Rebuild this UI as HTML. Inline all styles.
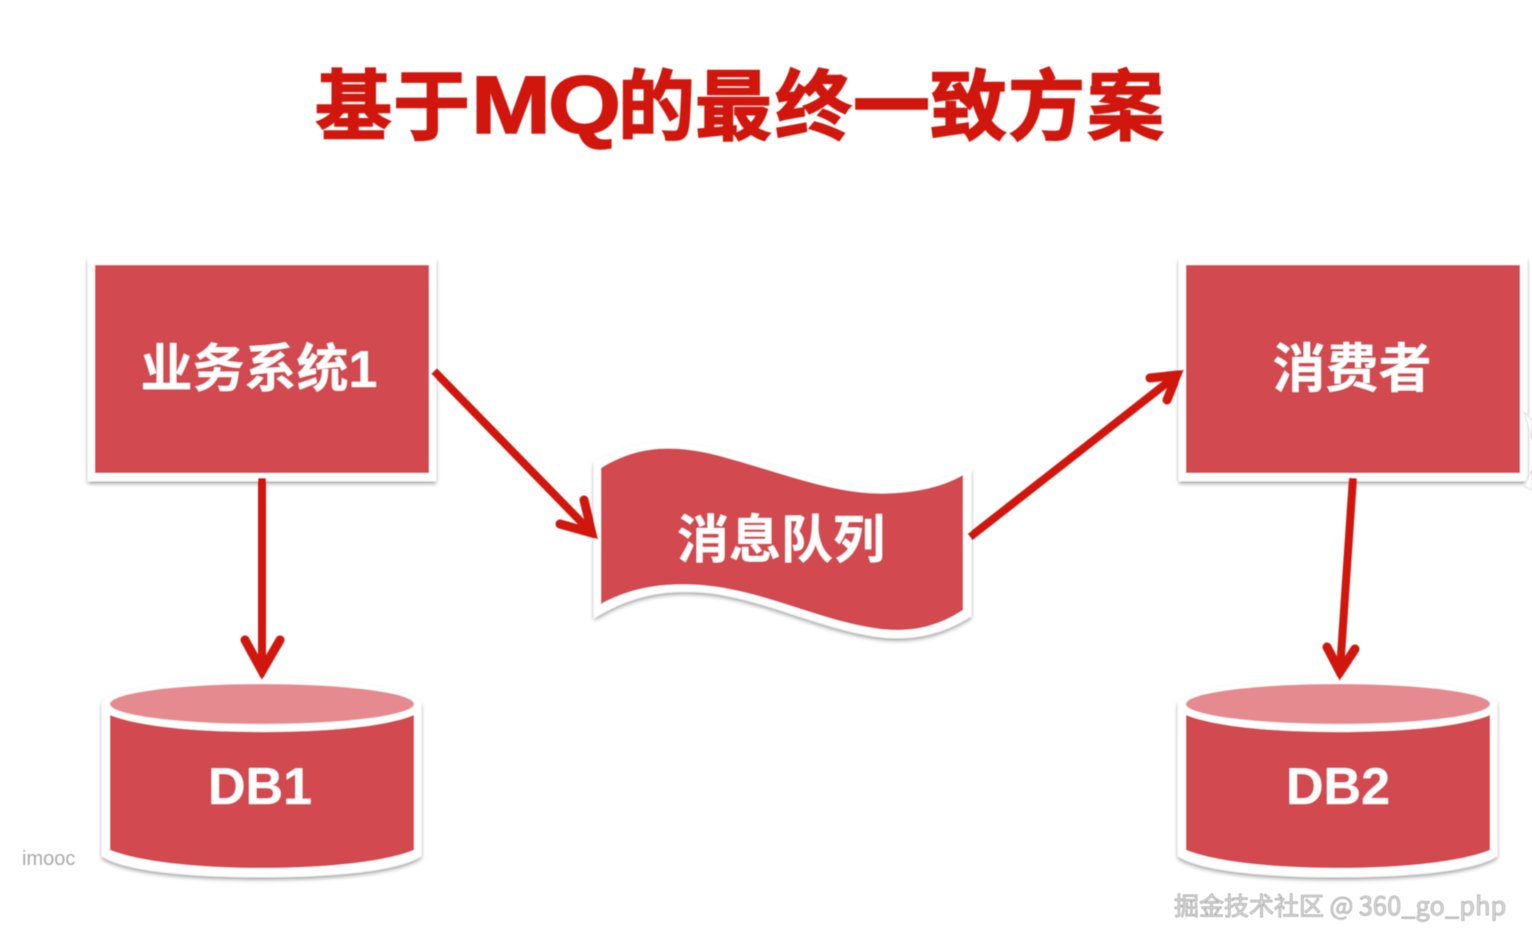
<!DOCTYPE html>
<html><head><meta charset="utf-8"><style>
html,body{margin:0;padding:0;background:#fff}
svg{display:block}
text{font-family:"Liberation Sans","Noto Sans CJK SC",sans-serif;font-weight:700}
</style></head><body>
<svg width="1532" height="948" viewBox="0 0 1532 948" xmlns="http://www.w3.org/2000/svg">
<defs>
<filter id="s" x="-5%" y="-5%" width="110%" height="112%"><feDropShadow dx="0" dy="2.5" stdDeviation="2" flood-color="#000" flood-opacity=".38"/></filter>
<filter id="b" x="-5%" y="-5%" width="110%" height="110%"><feGaussianBlur stdDeviation=".6"/></filter>
</defs>
<rect width="1532" height="948" fill="#fff"/>
<g filter="url(#b)">
<g fill="#d01608" stroke="#d01608" stroke-width="1.5">
<text x="315 393" y="134" font-size="77">基于</text>
<text x="471" y="133" font-size="82" textLength="80" lengthAdjust="spacingAndGlyphs" style="font-family:'Liberation Sans',sans-serif">M</text>
<text x="548" y="133" font-size="82" textLength="73" lengthAdjust="spacingAndGlyphs" style="font-family:'Liberation Sans',sans-serif">Q</text>
<text x="618 695 775 853 930 1008 1087" y="134" font-size="77">的最终一致方案</text>
</g>

<rect x="88" y="258" width="348" height="223" fill="#fff" filter="url(#s)"/>
<rect x="95" y="265" width="334" height="208" fill="#d24a50"/>
<text x="259" y="387" text-anchor="middle" font-size="52" fill="#fff">业务系统1</text>

<rect x="1179" y="258" width="348" height="223" fill="#fff" filter="url(#s)"/>
<rect x="1186" y="265" width="334" height="208" fill="#d24a50"/>
<text x="1352" y="387" text-anchor="middle" font-size="53" fill="#fff">消费者</text>
<path d="M1524 412L1532 420V440L1524 412ZM1532 470L1524 486L1532 490Z" fill="#fff" stroke="#ddd" stroke-width="1"/>

<path d="M594 462C630 440 670 438 720 450C790 468 840 492 895 487C925 485 950 478 971 468V616C945 633 915 641 880 637C820 629 770 601 710 593C665 588 630 596 594 618Z" fill="#fff" filter="url(#s)"/>
<path d="M601 468C635 447 670 443 720 456C790 475 840 497 895 493C925 491 945 485 963 475V610C940 625 915 633 880 629C820 621 770 593 710 586C665 581 630 588 601 604Z" fill="#d24a50"/>
<text x="781" y="558" text-anchor="middle" font-size="52" fill="#fff">消息队列</text>

<path d="M102 702C130 685 190 678 262 678S394 685 421 702V856C400 870 340 877 262 877S122 870 102 856Z" fill="#fff" filter="url(#s)"/>
<path d="M110 715C140 727 200 732 262 732S385 727 414 715V850C385 862 325 868 262 868S140 862 110 850Z" fill="#d24a50"/>
<ellipse cx="262" cy="704" rx="152" ry="20" fill="#e58b90"/>
<text x="260" y="804" text-anchor="middle" font-size="52" fill="#fff">DB1</text>

<path d="M1178 702C1206 685 1266 678 1338 678S1470 685 1497 702V856C1476 870 1416 877 1338 877S1198 870 1178 856Z" fill="#fff" filter="url(#s)"/>
<path d="M1186 715C1216 727 1276 732 1338 732S1461 727 1490 715V850C1461 862 1401 868 1338 868S1216 862 1186 850Z" fill="#d24a50"/>
<ellipse cx="1338" cy="704" rx="152" ry="20" fill="#e58b90"/>
<text x="1338" y="804" text-anchor="middle" font-size="52" fill="#fff">DB2</text>

<g fill="none" stroke="#d01608" stroke-width="8">
<path d="M262 478V670"/><path d="M245 640L262 671L280 640" stroke-width="9" stroke-linecap="round"/>
<path d="M434 371L592 533"/><path d="M584 500L592 533L560 524" stroke-width="9" stroke-linecap="round"/>
<path d="M970 537L1177 375"/><path d="M1150 378L1177 375L1167 400" stroke-width="9" stroke-linecap="round"/>
<path d="M1353 478L1340 670"/><path d="M1327 647L1340 672L1355 649" stroke-width="9" stroke-linecap="round"/>
</g>

<text x="22" y="865" font-size="20" fill="#aaa" style="font-weight:400">imooc</text>
<text x="1174" y="915" font-size="25" fill="#dcdcdc" stroke="#808080" stroke-width=".5" style="font-weight:400;font-family:'Noto Sans CJK SC',sans-serif">掘金技术社区 @ <tspan letter-spacing=".3">360_go_php</tspan></text>
</g>
</svg>
</body></html>
